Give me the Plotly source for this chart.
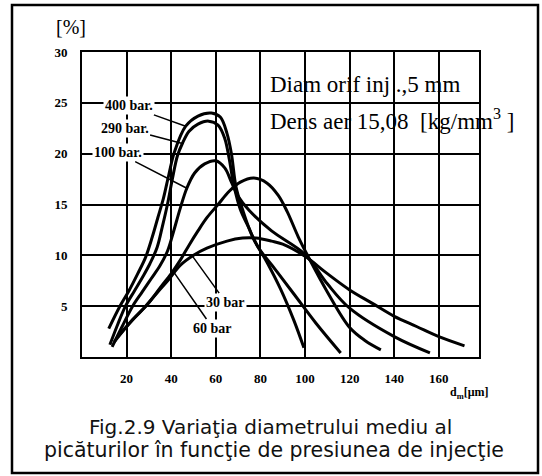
import plotly.graph_objects as go

# ---- data ----
x_ticks = [20, 40, 60, 80, 100, 120, 140, 160]
x_ticktext = ["20", "40", "60", "80", "100", "120", "140", "160"]
y_ticks = [5, 10, 15, 20, 25, 30]
y_ticktext = ["5", "10", "15", "20", "25", "30"]

p400_x = [12, 17, 21, 25, 28.5, 31.5, 34, 36.5, 39, 41.5, 46.5, 52, 58, 62, 65, 67, 69, 72, 76.5, 83, 89, 95, 99.5]
p400_y = [2.8, 5, 6.5, 8.2, 9.8, 11.8, 13.7, 15.6, 18.0, 20.2, 22.7, 23.7, 24.0, 23.6, 22.0, 20.0, 16.8, 14.5, 11.8, 9.3, 6.7, 3.6, 0.9]

p290_x = [12.5, 16, 19.5, 23.5, 27, 30.5, 33.7, 36, 38.3, 40.5, 42.8, 45, 48, 52, 56.8, 61, 64, 66, 68, 71, 74.6, 79, 86.7, 95, 105, 116]
p290_y = [1.2, 3.2, 5, 6.5, 7.8, 9.2, 10.8, 12.8, 15, 17.5, 19.8, 21.0, 22.2, 22.9, 23.2, 22.8, 21.5, 19.5, 17.0, 14.5, 12.8, 10.8, 8.6, 6.2, 3.3, 0.4]

p100_x = [13.5, 18, 22.7, 27, 31, 35, 38.3, 41, 44, 47, 50.5, 55, 60, 64, 67, 70, 75, 85, 100, 110, 120, 140, 156]
p100_y = [1.0, 3.0, 5, 6.4, 7.7, 9.0, 10.4, 12.3, 14.6, 16.6, 18.1, 19.0, 19.3, 18.6, 17.2, 15.8, 14.4, 12.4, 10.1, 7.2, 4.8, 2.0, 0.4]

p60_x = [14.5, 22, 29.5, 35, 40, 44, 48, 52, 56, 61, 66, 71, 77, 83, 88, 92, 97, 101.6, 110, 120, 127, 134]
p60_y = [1.5, 3.5, 5.2, 6.8, 8.2, 9.5, 11.0, 12.4, 13.7, 15.0, 16.3, 17.2, 17.6, 17.1, 15.9, 14.3, 11.8, 9.8, 6.4, 2.9, 1.6, 0.7]

p30_x = [16, 22, 28.5, 34, 38.8, 44, 50, 56, 65, 72, 78, 85, 90, 100, 110, 120, 130, 140, 150, 160, 171.5]
p30_y = [2.0, 3.5, 5.0, 6.4, 7.6, 9.0, 10.0, 10.7, 11.4, 11.7, 11.7, 11.4, 11.1, 9.9, 8.2, 6.6, 5.3, 4.0, 3.0, 2.0, 1.1]

series = [
    ("400 bar.", p400_x, p400_y),
    ("290 bar.", p290_x, p290_y),
    ("100 bar.", p100_x, p100_y),
    ("60 bar", p60_x, p60_y),
    ("30 bar", p30_x, p30_y),
]

# curve labels: text, label centre (data), leader target (data)
label_text = ["400 bar.", "290 bar.", "100 bar.", "30 bar", "60 bar"]
label_pos = [(20.9, 24.7), (19.1, 22.5), (16.0, 20.1), (64.4, 5.4), (58.6, 2.85)]
label_target = [(46.5, 22.7), (45.0, 21.0), (47.0, 16.6), (49.6, 9.9), (41.0, 8.4)]

info_line1 = "Diam orif inj .,5 mm"
info_line2 = "Dens aer 15,08  [kg/mm<sup>3</sup> ]"
caption_line1 = "Fig.2.9 Variaţia diametrului mediu al"
caption_line2 = "picăturilor în funcţie de presiunea de injecţie"

# ---- figure ----
fig = go.Figure()
for name, xs, ys in series:
    fig.add_trace(go.Scatter(x=xs, y=ys, mode="lines", name=name,
                             line=dict(color="black", width=3, shape="spline", smoothing=1.0),
                             showlegend=False, hoverinfo="skip"))

L, R, T, B = 82, 63, 52, 119
W, H = 542, 476
pw, ph = W - L - R, H - T - B


def px(xp):
    return (xp - L) / pw


def py(yp):
    return (H - B - yp) / ph


serif = "Liberation Serif"
shapes = [
    # outer frame
    dict(type="rect", xref="paper", yref="paper", x0=px(12), x1=px(538), y0=py(473), y1=py(5),
         line=dict(color="black", width=2.5), fillcolor="rgba(0,0,0,0)", layer="below"),
    # white box behind info text
    dict(type="rect", xref="paper", yref="paper", x0=px(262), x1=px(477), y0=py(140), y1=py(62),
         line=dict(width=0), fillcolor="white", layer="between"),
    # white box behind left labels
    dict(type="rect", xref="paper", yref="paper", x0=px(84), x1=px(152), y0=py(200), y1=py(63),
         line=dict(width=0), fillcolor="white", layer="between"),
]

annotations = []
for t, (lx, ly), (tx, ty) in zip(label_text, label_pos, label_target):
    annotations.append(dict(x=tx, y=ty, xref="x", yref="y", ax=lx, ay=ly, axref="x", ayref="y",
                            text="<b>" + t + "</b>", showarrow=True, arrowhead=0, arrowwidth=1.5,
                            arrowcolor="black", bgcolor="white",
                            font=dict(family=serif, size=14, color="black")))

annotations += [
    dict(xref="paper", yref="paper", x=px(268), y=py(84), xanchor="left", yanchor="middle",
         text=info_line1, showarrow=False, font=dict(family=serif, size=23, color="black")),
    dict(xref="paper", yref="paper", x=px(268), y=py(119), xanchor="left", yanchor="middle",
         text=info_line2, showarrow=False, font=dict(family=serif, size=23, color="black")),
    dict(xref="paper", yref="paper", x=px(71), y=py(27), xanchor="center", yanchor="middle",
         text="[%]", showarrow=False, font=dict(family=serif, size=20, color="black")),
    dict(xref="paper", yref="paper", x=px(469), y=py(393), xanchor="center", yanchor="middle",
         text="<b>d<sub>m</sub>[μm]</b>", showarrow=False, font=dict(family=serif, size=12, color="black")),
    dict(xref="paper", yref="paper", x=px(270), y=py(427), xanchor="center", yanchor="middle",
         text=caption_line1, showarrow=False, font=dict(family="DejaVu Sans", size=20, color="#111")),
    dict(xref="paper", yref="paper", x=px(274), y=py(450), xanchor="center", yanchor="middle",
         text=caption_line2, showarrow=False, font=dict(family="DejaVu Sans", size=20.5, color="#111")),
]

axis_common = dict(showgrid=True, gridcolor="black", gridwidth=2, showline=True, linecolor="black",
                   linewidth=2, mirror=True, ticks="", zeroline=False, fixedrange=True,
                   tickfont=dict(family=serif, size=13, color="black"))

fig.update_layout(
    width=W, height=H, margin=dict(l=L, r=R, t=T, b=B, pad=0),
    paper_bgcolor="white", plot_bgcolor="white",
    xaxis=dict(range=[0, 178], tickvals=x_ticks, ticktext=["<b>%s</b>" % t for t in x_ticktext],
               ticklabelstandoff=8, **axis_common),
    yaxis=dict(range=[0, 30], tickvals=y_ticks, ticktext=["<b>%s</b>" % t for t in y_ticktext],
               ticklabelstandoff=10, **axis_common),
    shapes=shapes, annotations=annotations,
)

fig.write_html("out.html", config={"displayModeBar": False},
               post_script="document.body.style.margin='0px';")
